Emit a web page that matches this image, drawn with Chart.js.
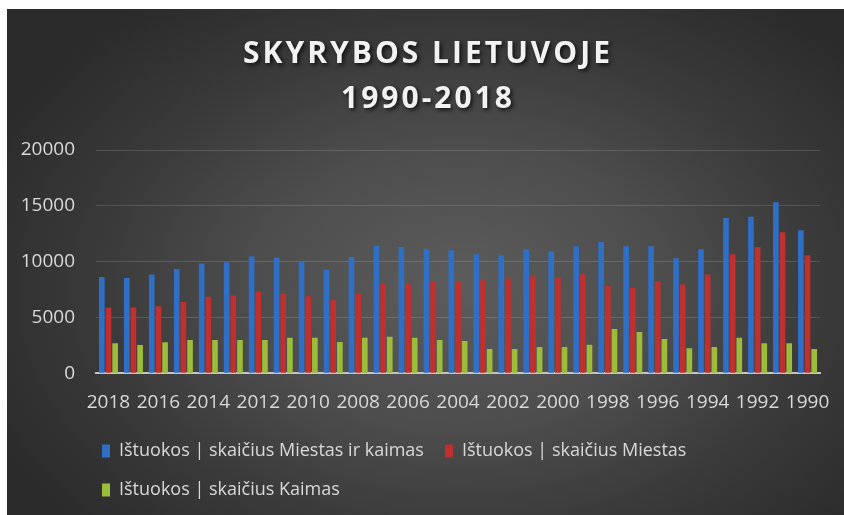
<!DOCTYPE html>
<html><head><meta charset="utf-8">
<script src="https://cdn.jsdelivr.net/npm/chart.js@4.4.1/dist/chart.umd.min.js"></script>
<style>
html,body{margin:0;padding:0;background:#fff;}
#wrap{position:relative;width:844px;height:515px;overflow:hidden;}
#panel{position:absolute;left:7px;top:9px;width:837px;height:506px;
 background:radial-gradient(ellipse 62% 70% at 54% 55%, #5c5c5c 0%, #4d4d4d 40%, #3a3a3a 70%, #2b2b2b 100%);}
canvas{position:absolute;left:0;top:0;}
</style></head><body>
<div id="wrap"><div id="panel"></div><canvas id="c" width="844" height="515"></canvas></div>
<script>
const titleLines = ['SKYRYBOS LIETUVOJE', '1990-2018'];
const categories = ['2018','2017','2016','2015','2014','2013','2012','2011','2010','2009','2008','2007','2006','2005','2004','2003','2002','2001','2000','1999','1998','1997','1996','1995','1994','1993','1992','1991','1990'];
const seriesNames = ['Ištuokos | skaičius Miestas ir kaimas', 'Ištuokos | skaičius Miestas', 'Ištuokos | skaičius Kaimas'];
const totalValues = [8630,8540,8840,9340,9820,9940,10450,10360,10060,9290,10410,11430,11300,11100,11010,10650,10560,11100,10900,11370,11750,11370,11370,10300,11100,13900,14020,15320,12800];
const cityValues  = [5890,5890,6010,6390,6840,6970,7320,7140,6900,6550,7140,8040,7980,8180,8180,8330,8480,8690,8630,8870,7820,7640,8240,7950,8840,10650,11300,12620,10560];
const ruralValues = [2680,2530,2770,2970,2970,2970,2970,3180,3180,2800,3180,3270,3180,2970,2880,2170,2170,2350,2350,2550,3960,3690,3060,2230,2350,3180,2680,2680,2170];
const yTicks = [0, 5000, 10000, 15000, 20000];

const colors = ['#2f6fc6', '#c0302e', '#9bbd3a'];
const FONT = '"Open Sans", "DejaVu Sans", sans-serif';

const stylePlugin = {
  id: 'stylePlugin',
  afterLayout(chart) {
    const tb = chart.titleBlock;
    if (tb) {
      if (!tb._patched) {
        const orig = tb.draw.bind(tb);
        tb.draw = function(area) {
          const ctx = this.ctx;
          ctx.save();
          ctx.letterSpacing = '3px';
          ctx.shadowColor = 'rgba(0,0,0,0.75)';
          ctx.shadowBlur = 4;
          ctx.shadowOffsetX = 2;
          ctx.shadowOffsetY = 2;
          orig(area);
          ctx.restore();
        };
        tb._patched = true;
      }
      tb.left += 18; tb.right += 18;
    }
    const lg = chart.legend;
    if (lg) { lg.left -= 15; lg.right -= 15; }
  }
};

new Chart(document.getElementById('c'), {
  type: 'bar',
  data: {
    labels: categories,
    datasets: [
      { label: seriesNames[0], data: totalValues, backgroundColor: colors[0] },
      { label: seriesNames[1], data: cityValues, backgroundColor: colors[1] },
      { label: seriesNames[2], data: ruralValues, backgroundColor: colors[2] }
    ]
  },
  options: {
    responsive: false,
    animation: false,
    events: [],
    layout: { padding: { top: 9, right: 24, bottom: 6, left: 0 } },
    datasets: { bar: { categoryPercentage: 0.8, barPercentage: 0.85 } },
    plugins: {
      title: {
        display: true,
        text: titleLines,
        color: '#f2f2f2',
        font: { family: FONT, size: 30, weight: 'bold', lineHeight: 1.5 },
        padding: { top: 23, bottom: 28 }
      },
      legend: {
        position: 'bottom',
        align: 'start',
        fullSize: false,
        labels: {
          color: '#d9d9d9',
          font: { family: FONT, size: 18 },
          boxWidth: 8,
          boxHeight: 13,
          padding: 21
        }
      },
      tooltip: { enabled: false }
    },
    scales: {
      x: {
        grid: { display: false, drawTicks: false },
        border: { display: true, color: '#c4c4c4', width: 2 },
        afterFit(scale) { scale.height -= 11; scale.paddingRight = 8; scale.paddingLeft = 0; },
        ticks: {
          color: '#d9d9d9',
          font: { family: FONT, size: 19 },
          autoSkip: false, maxRotation: 0, minRotation: 0,
          padding: 18,
          callback: function(v, i) { return i % 2 === 0 ? categories[i] : ''; }
        }
      },
      y: {
        min: 0, max: 20000,
        afterBuildTicks(scale) { scale.ticks = yTicks.map(v => ({ value: v })); },
        afterFit(scale) { scale.width = 96; },
        grid: { color: 'rgba(255,255,255,0.14)', drawTicks: false },
        border: { display: false },
        ticks: {
          color: '#d9d9d9',
          font: { family: FONT, size: 19 },
          padding: 21,
          callback: function(v) { return String(v); }
        }
      }
    }
  },
  plugins: [stylePlugin]
});
</script>
</body></html>
